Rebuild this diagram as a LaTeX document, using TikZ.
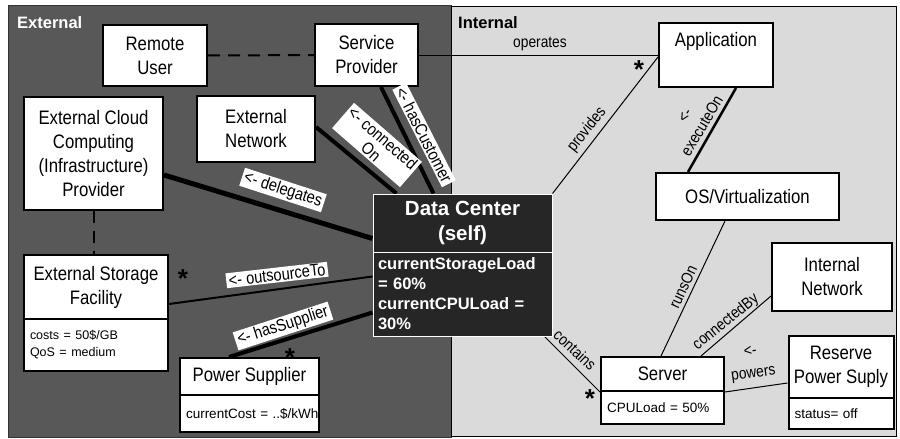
\documentclass[tikz,border=0pt]{standalone}
\usepackage{fontspec}
\setmainfont{Liberation Sans}
\newfontfamily\narrow[FakeStretch=0.86]{Liberation Sans}
\usetikzlibrary{calc}
\definecolor{extgray}{RGB}{88,88,88}
\definecolor{intgray}{RGB}{218,218,218}
\definecolor{dcfill}{RGB}{38,38,38}
\pgfdeclarelayer{bg}
\pgfdeclarelayer{edges}
\pgfsetlayers{bg,edges,main}
\begin{document}
\begin{tikzpicture}[x=1pt,y=-1pt,
  box/.style={draw=black,line width=2pt,fill=white,inner sep=0pt,align=center,
    font=\narrow\fontsize{19.5}{24}\selectfont},
  attrbox/.style={draw=black,line width=2pt,fill=white,inner xsep=6pt,inner ysep=0pt,
    align=left,font=\fontsize{13.5}{17}\selectfont},
  dcbox/.style={draw=white,line width=1pt,fill=dcfill,text=white,inner ysep=0pt},
  boxlabel/.style={fill=white,inner xsep=2.5pt,inner ysep=1.5pt,align=center,
    font=\narrow\fontsize{17}{18}\selectfont},
  linelabel/.style={inner sep=0pt,align=center,font=\narrow\fontsize{16}{20}\selectfont},
  star/.style={inner sep=0pt,font=\bfseries\fontsize{26}{26}\selectfont},
  thin/.style={line width=1pt},
  dashedlink/.style={line width=2pt,dash pattern=on 12pt off 8pt},
  region/.style={draw=black,line width=1pt}
]
\useasboundingbox (0,0) rectangle (900,439);

% regions
\begin{pgfonlayer}{bg}
  \filldraw[region,fill=extgray,draw=black!80] (8,5) rectangle (451,437);
  \filldraw[region,fill=intgray] (451,6) rectangle (896,436);
\end{pgfonlayer}
\node[anchor=base west,inner sep=0pt,text=white,font=\bfseries\fontsize{16.5}{18}\selectfont] (extlbl) at (17,28) {External};
\node[anchor=base west,inner sep=0pt,text=black,font=\bfseries\fontsize{16.5}{18}\selectfont] (intlbl) at (458,28) {Internal};

% external nodes
\node[box,minimum width=104,minimum height=61] (ru) at (155,55.5) {Remote\\User};
\node[box,minimum width=103,minimum height=62] (sp) at (366.5,55) {Service\\Provider};
\node[box,minimum width=139,minimum height=113] (eccp) at (93.5,153.5) {External Cloud\\Computing\\(Infrastructure)\\Provider};
\node[box,minimum width=118,minimum height=66] (en) at (256,129) {External\\Network};
\node[box,minimum width=144,minimum height=64] (esfh) at (96,287) {External Storage\\Facility};
\node[attrbox,text width=132,minimum height=52] (esfa) at (96,345) {\fontsize{12.5}{17}\selectfont costs = 50\$/GB\\QoS = medium};
\node[box,minimum width=139,minimum height=37] (psh) at (249.5,376.5) {Power Supplier};
\node[attrbox,text width=127,minimum height=37] (psa) at (249.5,413.5) {\mbox{currentCost = ..\$/kWh}};

% data center
\node[dcbox,inner xsep=0pt,minimum width=179,minimum height=58,align=center,
  font=\bfseries\fontsize{20.5}{25}\selectfont] (dch) at (462.5,223) {Data Center\\(self)};
\node[dcbox,inner xsep=5pt,text width=169,minimum height=84,align=left,
  font=\bfseries\fontsize{16.5}{20}\selectfont] (dca) at (462.5,294) {currentStorageLoad\\= 60\%\\currentCPULoad =\\30\%};

% internal nodes
\node[box,minimum width=114,minimum height=64] (app) at (716,55) {Application\\\strut};
\node[box,minimum width=183,minimum height=47] (os) at (747.5,196.5) {OS/Virtualization};
\node[box,minimum width=120,minimum height=68] (inet) at (832,277) {Internal\\Network};
\node[box,minimum width=123,minimum height=34] (srvh) at (662.5,374) {Server};
\node[attrbox,text width=111,minimum height=33] (srva) at (662.5,407.5) {CPULoad = 50\%};
\node[box,minimum width=105,minimum height=62] (rpsh) at (841,367) {Reserve\\Power Suply};
\node[attrbox,text width=93,minimum height=31] (rpsa) at (841,413.5) {status= off};

% connectors
\begin{pgfonlayer}{edges}
  \draw[dashedlink] (ru.east) -- (sp.west);
  \draw[dashedlink] ($(eccp.south west)+(71,0)$) -- ($(esfh.north west)+(71,0)$);
  \draw[thin] (sp.east) -- (app.west);
  \draw[thin] (dch.north east) -- ($(app.west)+(0,2)$);
  \draw[line width=2.5pt] ($(app.south west)+(78,0)$) -- ($(os.north west)+(33,0)$);
  \draw[thin] ($(os.south west)+(70,0)$) -- ($(srvh.north west)+(61,0)$);
  \draw[thin] ($(inet.south west)+(0,-16)$) -- ($(srvh.north west)+(101,0)$);
  \draw[thin] ($(rpsh.west)+(0,16)$) -- (srvh.south east);
  \draw[thin] ($(dca.south east)+(-8,0)$) -- (srvh.south west);
  \draw[line width=4pt] ($(sp.south west)+(67,0)$) -- ($(dch.north west)+(61,0)$);
  \draw[line width=4pt] ($(en.east)+(0,-2)$) -- ($(dch.north west)+(24,0)$);
  \draw[line width=5pt] ($(eccp.east)+(0,21.5)$) -- ($(dch.south west)+(0,-14)$);
  \draw[line width=2pt] ($(esfh.south east)+(0,-16)$) -- ($(dca.north west)+(0,25)$);
  \draw[line width=4pt] ($(psh.north west)+(50,0)$) -- ($(dca.north west)+(0,61)$);
\end{pgfonlayer}

% connector labels
\node[linelabel] (lop) at (540,44) {operates};
\node[linelabel,rotate=51.5] (lprov) at (587,130) {provides};
\node[linelabel,rotate=59] (lexec) at (694,121) {<-\\executeOn};
\node[linelabel,rotate=65] (lruns) at (683,287) {runsOn};
\node[linelabel,rotate=39] (lconn) at (726,322) {connectedBy};
\node[linelabel,rotate=8,font=\narrow\fontsize{16}{22}\selectfont] (lpow) at (752,364) {<-\\powers};
\node[linelabel,rotate=-43] (lcont) at (575,350) {contains};

\node[boxlabel,rotate=-63] (lcust) at (424,135) {<- hasCustomer};
\node[boxlabel,rotate=-41] (lcon) at (377,145) {<- connected\\On};
\node[boxlabel,rotate=-18] (ldel) at (283,190) {<- delegates};
\node[boxlabel,rotate=6.5] (lout) at (277,275) {<- outsourceTo};
\node[boxlabel,rotate=18] (lsup) at (283,326) {<- hasSupplier};

% multiplicities
\node[star] (s1) at (639,70) {*};
\node[star] (s2) at (183,279) {*};
\node[star] (s3) at (290,358) {*};
\node[star] (s4) at (590,399) {*};
\end{tikzpicture}
\end{document}
